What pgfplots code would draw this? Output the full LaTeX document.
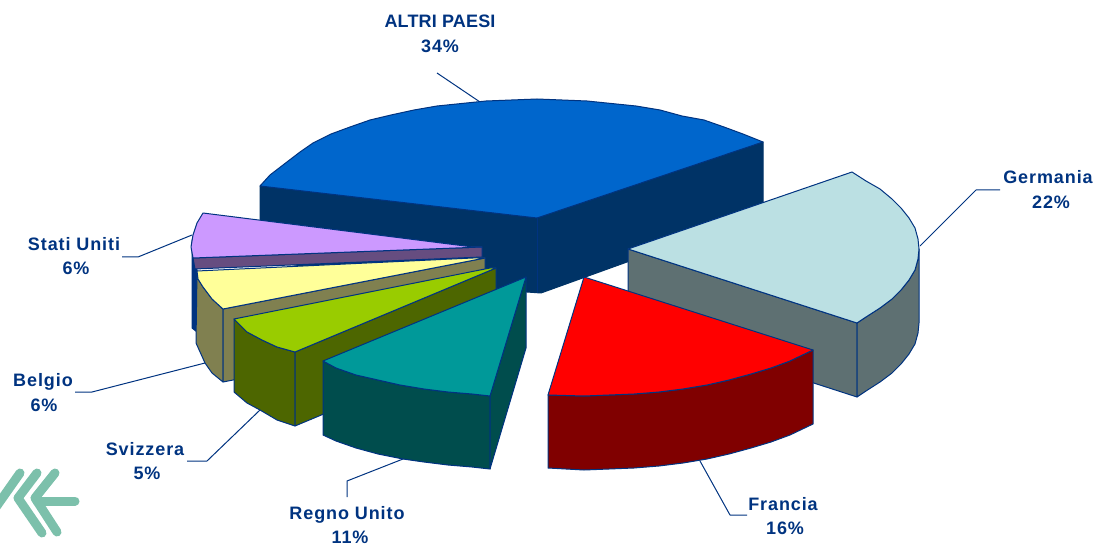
\documentclass[border=0pt]{standalone}
\usepackage{pgfplots}
\pgfplotsset{compat=1.18}
\usepackage{fontspec}
\setmainfont{Liberation Sans}
\newfontfamily\lab[LetterSpace=5]{Liberation Sans}
\newfontfamily\labcap[LetterSpace=1]{Liberation Sans}
\definecolor{ln}{HTML}{003380}
\definecolor{c1}{HTML}{0066CC}\definecolor{d1}{HTML}{003366}
\definecolor{c2}{HTML}{BBE0E3}\definecolor{d2}{HTML}{5E7072}
\definecolor{c3}{HTML}{FF0000}\definecolor{d3}{HTML}{800000}
\definecolor{c4}{HTML}{009999}\definecolor{d4}{HTML}{004D4D}
\definecolor{c5}{HTML}{99CC00}\definecolor{d5}{HTML}{4D6600}
\definecolor{c6}{HTML}{FFFF99}\definecolor{d6}{HTML}{808050}
\definecolor{c7}{HTML}{CC99FF}\definecolor{d7}{HTML}{664D80}
\definecolor{logo}{HTML}{7CC0AB}
\begin{document}
\begin{tikzpicture}
\useasboundingbox (0,0) rectangle (1097pt,545pt);
\begin{axis}[scale only axis,width=1097pt,height=545pt,xmin=0,xmax=1097,ymin=0,ymax=545,y dir=reverse,hide axis,
  every axis plot/.append style={no markers,draw=ln,line width=1pt,line join=round}]
% logo
\addplot[draw=logo,line width=9pt,line cap=round,line join=round] coordinates {(20,473) (-6,510)};
\addplot[draw=logo,line width=9pt,line cap=round,line join=round] coordinates {(37,473) (18,498) (42,533)};
\addplot[draw=logo,line width=9pt,line cap=round,line join=round] coordinates {(55,473) (35,498) (57,532)};
\addplot[draw=logo,line width=9pt,line cap=round] coordinates {(37,501) (75,501)};
% leaders
\addplot[line width=1pt] coordinates {(480,102) (437,73)};
\addplot[line width=1pt] coordinates {(920,246) (976,190) (1000,190)};
\addplot[line width=1pt] coordinates {(192,235) (138,257) (122,257)};
\addplot[line width=1pt] coordinates {(205,363) (92,392) (75,392)};
\addplot[line width=1pt] coordinates {(260,410) (207,461) (187,461)};
\addplot[line width=1pt] coordinates {(403,459) (347,481) (347,497)};
\addplot[line width=1pt] coordinates {(700,461) (730,515) (747,515)};
% ALTRI PAESI
\addplot[fill=d1,draw=d1] coordinates {(260,186) (537,218) (763,142) (763,213) (541,293) (527,292) (260,261)} --cycle;
\addplot[fill=c1] coordinates {(260,186) (537,218) (763,142) (743,134) (724,127) (704,120) (682,116) (660,110) (636,106) (587,101) (537,99) (486,101) (437,106) (414,110) (391,115) (370,120) (350,127) (331,134) (313,143) (300,152) (283,165) (270,175)} --cycle;
\addplot[draw=ln,line width=0.5pt] coordinates {(537,218) (537,293)};
% Stati Uniti
\addplot[fill=ln,draw=ln] coordinates {(192,240) (192,328) (197,332) (197,270)} --cycle;
\addplot[fill=d7] coordinates {(193,258) (482,247) (482,257) (195,269)} --cycle;
\addplot[fill=c7] coordinates {(203,213) (473,247) (482,247) (193,258) (191,247) (193,235) (197,223)} --cycle;
% Belgio
\addplot[fill=d6] coordinates {(197,271) (198,279) (203,287) (212,299) (223,309) (223,382) (212,373) (205,363) (196,343)} --cycle;
\addplot[fill=d6] coordinates {(223,309) (485,258) (485,330) (223,382)} --cycle;
\addplot[fill=c6] coordinates {(197,271) (473,258) (485,258) (223,309) (212,299) (203,287) (198,279)} --cycle;
% Svizzera
\addplot[fill=d5] coordinates {(234,319) (247,332) (262,340) (277,347) (295,352) (295,426) (277,420) (260,410) (247,403) (234,392)} --cycle;
\addplot[fill=d5] coordinates {(295,352) (496,268) (496,342) (295,426)} --cycle;
\addplot[fill=c5] coordinates {(234,319) (490,268) (496,268) (295,352) (277,347) (262,340) (247,332)} --cycle;
% Regno Unito
\addplot[fill=d4] coordinates {(323,361) (336,368) (356,375) (378,380) (400,385) (424,389) (448,392) (472,394) (490,396) (490,469) (472,467) (448,465) (424,462) (403,459) (378,454) (356,448) (336,441) (323,435)} --cycle;
\addplot[fill=d4] coordinates {(526,277) (526,348) (490,469) (490,396)} --cycle;
\addplot[fill=c4] coordinates {(323,361) (526,277) (490,396) (472,394) (448,392) (424,389) (400,385) (378,380) (356,375) (336,368)} --cycle;
% Germania
\addplot[fill=d2] coordinates {(628,249) (857,323) (857,397) (628,323)} --cycle;
\addplot[fill=d2] coordinates {(857,323) (866,317) (880,308) (892,299) (901,290) (909,280) (915,270) (918,259) (919,249) (919,323) (918,333) (915,344) (909,354) (901,364) (892,373) (880,382) (866,391) (857,397)} --cycle;
\addplot[fill=c2] coordinates {(628,249) (852,172) (866,181) (880,189) (892,199) (901,208) (909,218) (915,228) (918,239) (919,249) (918,259) (915,270) (909,280) (901,290) (892,299) (880,308) (866,317) (857,323)} --cycle;
% Francia
\addplot[fill=d3] coordinates {(548,395) (584,396) (634,394) (659,392) (683,389) (707,385) (729,380) (751,374) (771,368) (790,361) (813,350) (813,424) (790,435) (771,442) (751,448) (729,454) (707,459) (683,463) (659,466) (634,468) (584,470) (548,468)} --cycle;
\addplot[fill=c3] coordinates {(584,277) (813,350) (790,361) (771,368) (751,374) (729,380) (707,385) (683,389) (659,392) (634,394) (584,396) (548,395)} --cycle;
% labels
\tikzset{lb/.style={font=\fontsize{18}{20}\lab\bfseries,text=ln,inner sep=0pt,anchor=base}}
\node[lb,font=\fontsize{18}{20}\labcap\bfseries] at (axis cs:440,28) {ALTRI PAESI};
\node[lb] at (axis cs:440,53) {34\%};
\node[lb] at (axis cs:1048,184) {Germania};
\node[lb] at (axis cs:1051,209) {22\%};
\node[lb] at (axis cs:74,251) {Stati Uniti};
\node[lb] at (axis cs:76,275) {6\%};
\node[lb] at (axis cs:43,386) {Belgio};
\node[lb] at (axis cs:44,411) {6\%};
\node[lb] at (axis cs:145,455) {Svizzera};
\node[lb] at (axis cs:147,479) {5\%};
\node[lb] at (axis cs:347,519) {Regno Unito};
\node[lb] at (axis cs:350,543) {11\%};
\node[lb] at (axis cs:783,510) {Francia};
\node[lb] at (axis cs:785,534) {16\%};
\end{axis}
\end{tikzpicture}
\end{document}
